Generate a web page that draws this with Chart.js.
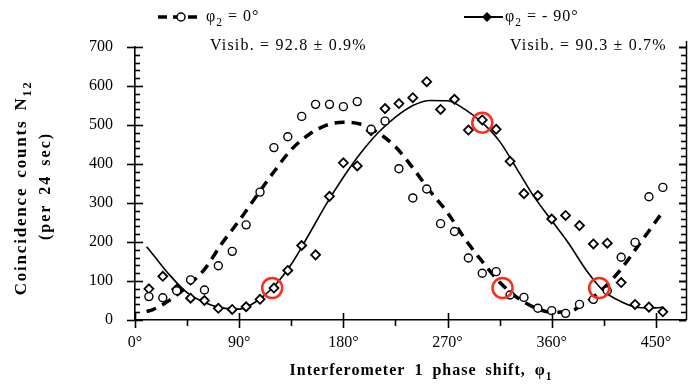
<!DOCTYPE html>
<html>
<head>
<meta charset="utf-8">
<script src="https://cdn.jsdelivr.net/npm/chart.js@4.4.0/dist/chart.umd.min.js"></script>
<style>
html, body { margin: 0; padding: 0; background: #fff; }
#wrap { position: relative; width: 689px; height: 385px; }
</style>
</head>
<body>
<div id="wrap"><canvas id="myChart" width="689" height="385"></canvas></div>
<script>
// measured points, 12 deg steps
const phase = [12, 24, 36, 48, 60, 72, 84, 96, 108, 120, 132, 144, 156, 168, 180, 192, 204, 216, 228,
    240, 252, 264, 276, 288, 300, 312, 324, 336, 348, 360, 372, 384, 396, 408, 420, 432, 444, 456];
const countsZero = [60, 57, 75, 103, 77, 139, 176, 244, 328, 442, 470, 522, 553, 553, 547, 560, 489, 510, 388,
    313, 336, 247, 227, 159, 120, 124, 64, 58, 30, 24, 17, 40, 53, 75, 161, 199, 316, 340];
const countsMinus90 = [80, 112, 79, 56, 50, 30, 27, 34, 53, 82, 127, 191, 167, 317, 403, 395, 485, 542, 555,
    570, 611, 540, 566, 487, 513, 489, 407, 324, 319, 259, 268, 242, 195, 197, 96, 40, 33, 21];

// fitted curves
const fitPhase = [10, 15, 30, 45, 60, 75, 90, 105, 120, 135, 150, 165, 180, 195, 210, 225, 240, 255,
    270, 285, 300, 315, 330, 345, 360, 375, 390, 405, 420, 435, 450, 456];
const fitZero = [22, 26, 51, 86, 130, 196, 255, 318, 380, 437, 475, 499, 507, 502, 480, 444, 390, 330,
    275, 208, 150, 97, 58, 32, 20, 22, 46, 82, 131, 192, 253, 278];
const fitMinus90 = [188, 170, 115, 70, 45, 31, 28, 48, 86, 143, 218, 296, 366, 428, 480, 520, 550, 563,
    562, 540, 506, 458, 387, 315, 255, 195, 127, 74, 47, 32, 31, 33];

// red rings
const markedPhase = [118.5, 300, 317.5, 401];
const markedCounts = [82, 506, 82, 82];

const xTicks = [0, 90, 180, 270, 360, 450];
const yTicks = [0, 100, 200, 300, 400, 500, 600, 700];

const serif = '"Liberation Serif", "Times New Roman", serif';

function pts(xs, ys) {
    return xs.map((x, i) => ({x: x, y: ys[i]}));
}

// text with subscript pieces: [['N', false], ['12', true]]
function drawParts(ctx, parts, x, y, size, bold, align, ls, ws) {
    const f = (s) => (bold ? 'bold ' : '') + s + 'px ' + serif;
    ctx.letterSpacing = (ls || 0) + 'px';
    ctx.wordSpacing = (ws || 0) + 'px';
    let w = 0;
    parts.forEach(p => { ctx.font = f(p[1] ? size * 0.72 : size); w += ctx.measureText(p[0]).width; });
    let cx = align === 'center' ? x - w / 2 : x;
    ctx.textAlign = 'left';
    ctx.textBaseline = 'middle';
    parts.forEach(p => {
        ctx.font = f(p[1] ? size * 0.72 : size);
        ctx.fillText(p[0], cx, p[1] ? y + size * 0.35 : y);
        cx += ctx.measureText(p[0]).width;
    });
    ctx.letterSpacing = '0px';
    ctx.wordSpacing = '0px';
}

const tickMarks = {
    id: 'tickMarks',
    afterDraw(chart) {
        const {ctx, chartArea: a, scales: {x, y}} = chart;
        ctx.save();
        ctx.strokeStyle = '#000';
        const seg = (x1, y1, x2, y2, w) => {
            ctx.lineWidth = w;
            ctx.beginPath(); ctx.moveTo(x1, y1); ctx.lineTo(x2, y2); ctx.stroke();
        };
        for (let v = 0; v <= 700; v += 20) {
            const py = Math.round(y.getPixelForValue(v)) + 0.5;
            const major = v % 100 === 0;
            if (major) {
                seg(a.left - 8, py, a.left + 8, py, 1.6);
                seg(a.right - 7, py, a.right, py, 2);
            } else {
                seg(a.left, py, a.left + 5, py, 1.6);
                seg(a.right - 5, py, a.right, py, 1.6);
            }
        }
        for (let v = 0; v <= 450; v += 45) {
            const px = Math.round(x.getPixelForValue(v)) + 0.5;
            if (v % 90 === 0) seg(px, a.bottom - 7, px, a.bottom + 8, 1.6);
            else seg(px, a.bottom, px, a.bottom + 6, 1.6);
        }
        // right-hand axis
        seg(a.right + 0.5, a.top - 6, a.right + 0.5, a.bottom, 1.5);
        ctx.restore();
    }
};

const labelsPlugin = {
    id: 'labelsPlugin',
    afterDraw(chart) {
        const ctx = chart.ctx;
        ctx.save();
        ctx.fillStyle = '#000';
        ctx.strokeStyle = '#000';

        // legend entry 1: dashed line with open circle
        ctx.lineWidth = 3.5;
        ctx.setLineDash([9, 6]);
        ctx.beginPath(); ctx.moveTo(158, 17); ctx.lineTo(203, 17); ctx.stroke();
        ctx.setLineDash([]);
        ctx.lineWidth = 1.5;
        ctx.fillStyle = '#fff';
        ctx.beginPath(); ctx.arc(181, 17, 4, 0, Math.PI * 2); ctx.fill(); ctx.stroke();
        ctx.fillStyle = '#000';
        drawParts(ctx, [['\u03c6', false], ['2', true], [' = 0\u00b0', false]], 206, 17, 16, false, 'left', 1);
        drawParts(ctx, [['Visib. = 92.8 \u00b1 0.9%', false]], 210, 46, 16, false, 'left', 1.2);

        // legend entry 2: solid line with filled diamond
        ctx.lineWidth = 2;
        ctx.beginPath(); ctx.moveTo(464, 17); ctx.lineTo(503, 17); ctx.stroke();
        ctx.beginPath();
        ctx.moveTo(487, 12); ctx.lineTo(492, 17); ctx.lineTo(487, 22); ctx.lineTo(482, 17); ctx.closePath();
        ctx.fill();
        drawParts(ctx, [['\u03c6', false], ['2', true], [' = - 90\u00b0', false]], 505, 17, 16, false, 'left', 1);
        drawParts(ctx, [['Visib. = 90.3 \u00b1 0.7%', false]], 510, 46, 16, false, 'left', 1.2);

        // axis titles
        drawParts(ctx, [['Interferometer 1 phase shift, \u03c6', false], ['1', true]], 421, 371, 16, true, 'center', 1, 4);
        ctx.translate(22, 188);
        ctx.rotate(-Math.PI / 2);
        drawParts(ctx, [['Coincidence counts N', false], ['12', true]], 0, 0, 17, true, 'center', 1.8, 3);
        ctx.rotate(Math.PI / 2);
        ctx.translate(24, -2);
        ctx.rotate(-Math.PI / 2);
        drawParts(ctx, [['(per 24 sec)', false]], 0, 0, 16, true, 'center', 2, 3);
        ctx.restore();
    }
};

let ctx = document.getElementById('myChart');

var myChart = new Chart(ctx, {
    type: 'scatter',
    data: {
        datasets: [
            {
                label: 'phi2 = 0 fit',
                data: pts(fitPhase, fitZero),
                showLine: true,
                borderColor: '#000',
                borderWidth: 3.5,
                borderDash: [10, 7],
                pointRadius: 0,
                cubicInterpolationMode: 'monotone',
                order: 3
            },
            {
                label: 'phi2 = -90 fit',
                data: pts(fitPhase, fitMinus90),
                showLine: true,
                borderColor: '#000',
                borderWidth: 1.6,
                pointRadius: 0,
                cubicInterpolationMode: 'monotone',
                order: 3
            },
            {
                label: 'phi2 = 0',
                data: pts(phase, countsZero),
                pointStyle: 'circle',
                pointRadius: 4,
                pointBorderWidth: 1.4,
                pointBorderColor: '#000',
                pointBackgroundColor: '#fff',
                order: 2
            },
            {
                label: 'phi2 = -90',
                data: pts(phase, countsMinus90),
                pointStyle: 'rectRot',
                pointRadius: 4.5,
                pointBorderWidth: 1.8,
                pointBorderColor: '#000',
                pointBackgroundColor: '#fff',
                order: 2
            },
            {
                label: 'marked',
                data: pts(markedPhase, markedCounts),
                pointStyle: 'circle',
                pointRadius: 10,
                pointBorderWidth: 2.5,
                pointBorderColor: '#ff2a1a',
                pointBackgroundColor: 'rgba(0,0,0,0)',
                order: 1
            }
        ]
    },
    options: {
        responsive: false,
        animation: false,
        events: [],
        layout: {autoPadding: false, padding: {left: 0, right: 3, top: 47, bottom: 0}},
        plugins: {legend: {display: false}, tooltip: {enabled: false}},
        scales: {
            x: {
                type: 'linear',
                min: 0,
                max: 476,
                afterBuildTicks: s => { s.ticks = xTicks.map(v => ({value: v})); },
                afterFit: s => { s.height = 65; },
                grid: {display: false, drawTicks: false},
                border: {display: true, color: '#000', width: 1.6},
                ticks: {
                    padding: 13,
                    maxRotation: 0,
                    color: '#000',
                    font: {family: serif, size: 16},
                    callback: v => v + '\u00b0'
                }
            },
            y: {
                type: 'linear',
                min: 0,
                max: 700,
                afterBuildTicks: s => { s.ticks = yTicks.map(v => ({value: v})); },
                afterFit: s => { s.width = 135; },
                grid: {display: false, drawTicks: false},
                border: {display: true, color: '#000', width: 1.6},
                ticks: {
                    padding: 22,
                    color: '#000',
                    font: {family: serif, size: 16}
                }
            }
        }
    },
    plugins: [tickMarks, labelsPlugin]
});
</script>
</body>
</html>
